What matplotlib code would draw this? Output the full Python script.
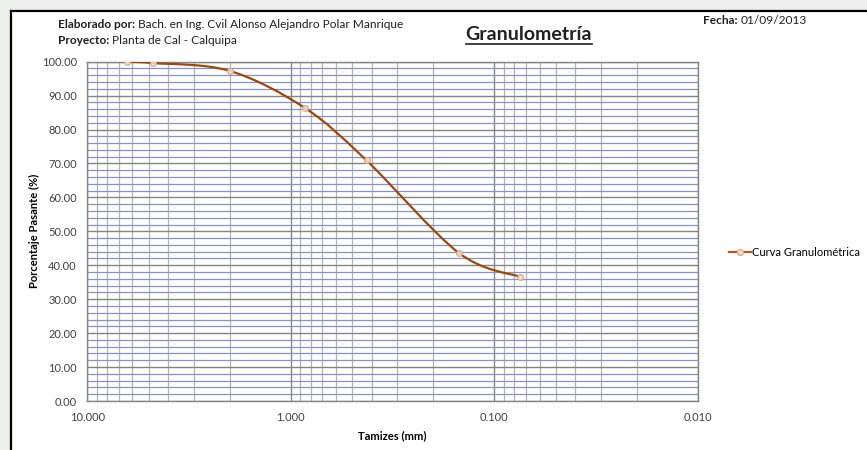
import numpy as np
import matplotlib
matplotlib.use("Agg")
import matplotlib.pyplot as plt
from matplotlib.path import Path
from matplotlib.patches import PathPatch, Rectangle
from matplotlib.lines import Line2D
from matplotlib.ticker import FixedLocator, MultipleLocator, FuncFormatter, NullFormatter

# ---- data ----
tamiz_mm = [6.35, 4.75, 2.00, 0.850, 0.425, 0.150, 0.075]
pasante = [100.0, 99.6, 97.3, 86.3, 70.9, 43.7, 36.6]
series_name = "Curva Granulométrica"
x_major = [10, 1, 0.1, 0.01]
y_major = [0, 10, 20, 30, 40, 50, 60, 70, 80, 90, 100]

plt.rcParams['font.family'] = ['Lato', 'DejaVu Sans']
W, H = 867, 450
fig = plt.figure(figsize=(W / 100, H / 100), dpi=100, facecolor='#eceeec')

# white chart area with black frame (left & top)
fig.add_artist(Rectangle((11 / W, 0), 1 - 11 / W, 1 - 11 / H, transform=fig.transFigure,
                         facecolor='white', edgecolor='none', zorder=0))
fig.add_artist(Line2D([11 / W, 11 / W], [0, 1 - 11 / H], transform=fig.transFigure,
                      color='black', lw=1.6))
fig.add_artist(Line2D([11 / W, 1], [1 - 11 / H, 1 - 11 / H], transform=fig.transFigure,
                      color='black', lw=1.6))

ax = fig.add_axes([87.3 / W, 1 - 401 / H, (698 - 87.3) / W, (401 - 61.7) / H])
ax.set_facecolor('white')
ax.set_xscale('log')
ax.set_xlim(10, 0.01)
ax.set_ylim(0, 100)

ax.xaxis.set_major_locator(FixedLocator(x_major))
ax.xaxis.set_major_formatter(FuncFormatter(lambda v, p: f"{v:.3f}"))
ax.xaxis.set_minor_locator(FixedLocator([m * d for d in [0.01, 0.1, 1] for m in range(2, 10)]))
ax.xaxis.set_minor_formatter(NullFormatter())
ax.yaxis.set_major_locator(FixedLocator(y_major))
ax.yaxis.set_major_formatter(FuncFormatter(lambda v, p: f"{v:.2f}"))
ax.yaxis.set_minor_locator(MultipleLocator(2))

ax.tick_params(which='both', length=0)
ax.tick_params(axis='y', pad=7.5, labelsize=8, labelcolor='#404040')
ax.tick_params(axis='x', pad=8, labelsize=8, labelcolor='#404040')

ax.xaxis.grid(True, which='minor', color='#b4b4b4', lw=0.9)
ax.xaxis.grid(True, which='major', color='#858585', lw=1.0)
ax.yaxis.grid(True, which='minor', color='#8694c4', lw=0.9)
ax.yaxis.grid(True, which='major', color='#858585', lw=1.0)
ax.set_axisbelow(True)
for s in ax.spines.values():
    s.set_color('#858585')
    s.set_linewidth(1.0)

ax.set_xlabel("Tamizes (mm)", fontsize=8, fontweight='bold', labelpad=5)
ax.set_ylabel("Porcentaje Pasante (%)", fontsize=8, fontweight='bold', labelpad=1)

# smoothed curve (Bezier through data points, in log-x / linear-y space)
u = np.log10(np.array(tamiz_mm))
y = np.array(pasante)
P = np.column_stack([u, y])
n = len(P)
verts = [P[0]]
codes = [Path.MOVETO]
for i in range(n - 1):
    pm = P[max(i - 1, 0)]
    p0 = P[i]
    p1 = P[i + 1]
    p2 = P[min(i + 2, n - 1)]
    c1 = p0 + (p1 - pm) / 6.0
    c2 = p1 - (p2 - p0) / 6.0
    verts += [c1, c2, p1]
    codes += [Path.CURVE4] * 3
verts = np.array(verts)
verts[:, 0] = 10 ** verts[:, 0]
line_color = '#9a4a10'
ax.add_patch(PathPatch(Path(verts, codes), fill=False, edgecolor=line_color, lw=1.6,
                       transform=ax.transData, zorder=3))
ax.plot(tamiz_mm, pasante, linestyle='none', marker='o', ms=4.2,
        mfc='#f3dccb', mec='#d9a888', mew=0.9, alpha=0.9, zorder=4)

handle = Line2D([], [], color='#b05a20', lw=1.6, marker='o', ms=4.2,
                mfc='#f3dccb', mec='#d9a888', mew=0.9)
fig.legend([handle], [series_name], loc='center left',
           bbox_to_anchor=(729 / W, 1 - 252.5 / H), frameon=False, fontsize=8,
           handlelength=2.0, handletextpad=0.1, borderaxespad=0, borderpad=0)

# header texts
def two_part(x, yy, bold, normal, size):
    t = fig.text(x / W, 1 - yy / H, bold, fontsize=size, fontweight='bold',
                 ha='left', va='center', color='#202020')
    ax.annotate(normal, xy=(1, 0.5), xycoords=t, xytext=(3, 0), textcoords='offset pixels',
                ha='left', va='center', fontsize=size, color='#202020', annotation_clip=False)
    return t

two_part(58, 24, "Elaborado por:", "Bach. en Ing. Cvil Alonso Alejandro Polar Manrique", 8.6)
two_part(58, 41, "Proyecto:", "Planta de Cal - Calquipa", 8.6)
two_part(703, 20, "Fecha:", "01/09/2013", 8.6)

title = fig.text(529 / W, 1 - 35 / H, "Granulometría", fontsize=14, fontweight='bold',
                 ha='center', va='center', color='#202020')
fig.canvas.draw()
bb = title.get_window_extent()
fig.add_artist(Line2D([bb.x0 / W, bb.x1 / W], [(H - 43.5) / H, (H - 43.5) / H],
                      transform=fig.transFigure, color='#202020', lw=1.2))

fig.savefig("out.png", dpi=100, facecolor=fig.get_facecolor())
